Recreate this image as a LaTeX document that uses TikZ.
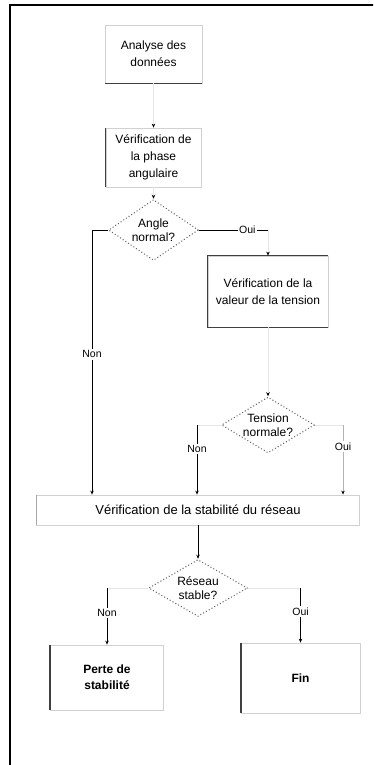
\documentclass[tikz,border=0pt]{standalone}
\usepackage{fontspec}
\setmainfont{Liberation Sans}
\usetikzlibrary{shapes.geometric,arrows.meta}
\begin{document}
\begin{tikzpicture}[x=1pt,y=-1pt,
  box/.style={draw=black!18, line width=0.8pt, rectangle, inner sep=2pt, align=center, font=\fontsize{12}{17}\selectfont},
  dia/.style={diamond, draw=black!60, dash pattern=on 0.01pt off 3.2pt, line cap=round, line width=1.5pt, align=center, inner sep=0pt, aspect=1.6, font=\fontsize{12}{14}\selectfont},
  edgedark/.style={draw=black!75, line width=1.6pt},
  conn/.style={draw=black, line width=0.9pt},
  faint/.style={draw=black!10, line width=0.6pt},
  arr/.style={-{Stealth[length=4pt,width=3.5pt,color=black]}},
  lbl/.style={fill=white, inner sep=1.5pt, font=\fontsize{10.5}{12}\selectfont}]
\useasboundingbox (0,0) rectangle (373,765);
\clip (0,0) rectangle (373,765);
\draw[line width=2.4pt] (10,5) rectangle (400,800);

\node[box, minimum width=97pt, minimum height=58pt] (b1) at (153.5,54) {Analyse des\\données};
\node[box, minimum width=95pt, minimum height=59pt] (b2) at (153.5,157.5) {Vérification de\\la phase\\angulaire};
\node[dia, minimum width=90pt, minimum height=61pt] (d1) at (153.5,230) {Angle\\normal?};
\node[box, minimum width=120pt, minimum height=71pt] (b3) at (268,291.5) {Vérification de la\\valeur de la tension};
\node[dia, minimum width=93pt, minimum height=56pt] (d2) at (268,425) {Tension\\normale?};
\node[box, minimum width=323pt, minimum height=30pt, font=\fontsize{13}{17}\selectfont] (w) at (198,510) {Vérification de la stabilité du réseau};
\node[dia, minimum width=99pt, minimum height=57pt] (d3) at (198,588) {Réseau\\stable?};
\node[box, minimum width=113pt, minimum height=65pt, font=\bfseries\fontsize{12}{16}\selectfont] (b4) at (107,677.5) {Perte de\\stabilité};
\node[box, minimum width=119pt, minimum height=70pt, font=\bfseries\fontsize{12}{16}\selectfont] (fin) at (300.5,678) {Fin};

% darker edges
\draw[edgedark, line width=1.3pt] (b1.south west) -- (b1.south east);
\draw[edgedark, line width=1.3pt] (b2.north west) -- (b2.south west);
\draw[edgedark, line width=1.4pt] (b3.north east) -- (b3.north west) -- (b3.south west) -- (b3.south east);
\draw[draw=black!35, line width=1pt] (w.north west) -- (w.south west);
\draw[edgedark, line width=2pt] (b4.north west) -- (b4.south west);
\draw[edgedark, line width=2pt] (fin.north west) -- (fin.south west);

% connectors
\draw[faint, arr] (b1.south) -- (b2.north);
\draw[faint, arr] (b2.south) -- (d1.north);

\coordinate (c0) at (92,230);
\draw[conn, arr] (d1.west) -- (c0) -- node[lbl, pos=0.47]{Non} (c0 |- w.north);
\coordinate (c1) at (268,230);
\draw[conn] (d1.east) -- node[lbl, pos=0.7]{Oui} (c1);
\draw[faint, arr] (c1) -- (b3.north);

\draw[faint, arr] (b3.south) -- (d2.north);
\coordinate (c2) at (197,425);
\draw[faint] (d2.west) -- (c2);
\draw[conn, arr] (c2) -- node[lbl, pos=0.34]{Non} (c2 |- w.north);
\coordinate (c3) at (343,425);
\draw[faint] (d2.east) -- (c3);
\draw[draw=black!30, line width=0.8pt, arr] (c3) -- node[lbl, pos=0.31]{Oui} (c3 |- w.north);

\draw[conn, arr] (w.south) -- (d3.north);
\coordinate (c4) at (107,588);
\draw[faint] (d3.west) -- (c4);
\draw[conn, arr] (c4) -- node[lbl, pos=0.44]{Non} (b4.north);
\coordinate (c5) at (300.5,588);
\draw[faint] (d3.east) -- (c5);
\draw[conn, arr] (c5) -- node[lbl, pos=0.43]{Oui} (fin.north);
\end{tikzpicture}
\end{document}
